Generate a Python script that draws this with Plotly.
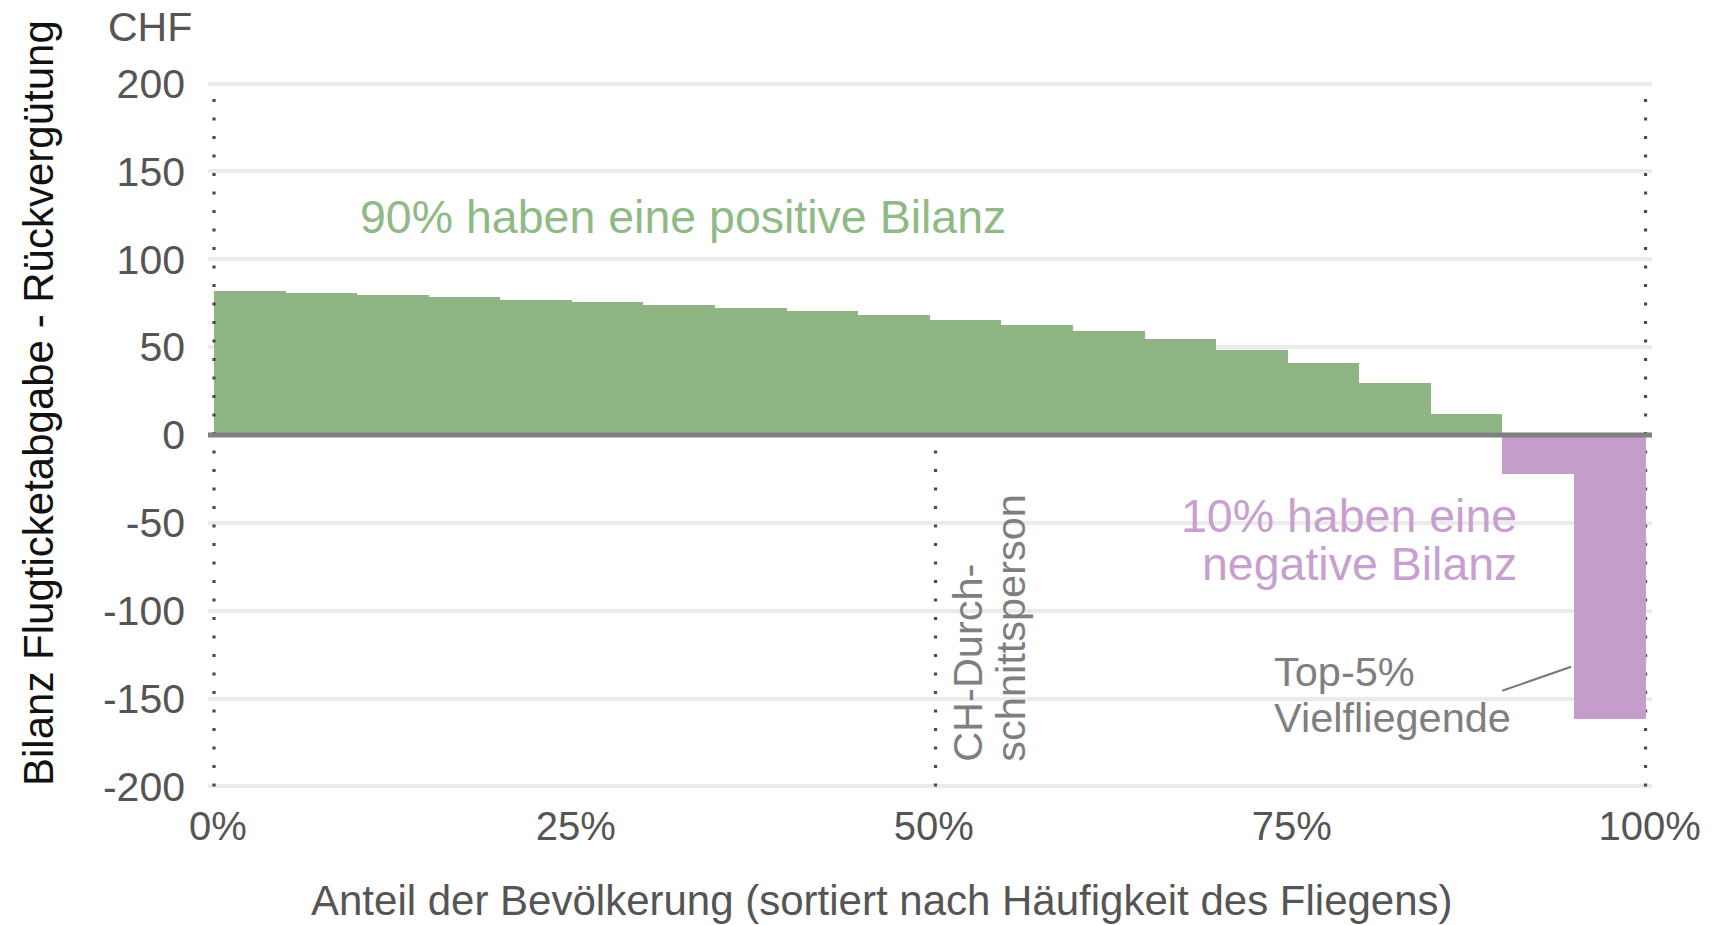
import plotly.graph_objects as go

# ---------------- data ----------------
bin_start = [0, 5, 10, 15, 20, 25, 30, 35, 40, 45, 50, 55, 60, 65, 70, 75, 80, 85, 90, 95]  # % of population
bin_width = 5
bilanz = [82.2, 80.7, 79.5, 78.4, 76.7, 75.6, 73.9, 72.2, 70.5, 68.2,
          65.3, 62.5, 59.1, 54.5, 48.3, 40.9, 29.5, 11.9, -22.3, -161.6]  # CHF
avg_person_share = 50.4
y_tickvals = [-200, -150, -100, -50, 0, 50, 100, 150, 200]
y_ticktext = [str(v) for v in y_tickvals]
x_tickvals = [0, 25, 50, 75, 100]
x_ticktext = ["0%", "25%", "50%", "75%", "100%"]

GREEN = "#8fb584"
PURPLE = "#c49dcb"
GREEN_TXT = "#8fb985"
PURPLE_TXT = "#c7a0d0"
GRAY_TXT = "#7f7f7f"
TICK_C = "#555555"
DOT_C = "#4a4a4a"
FONT = "Liberation Sans, Arial, sans-serif"

XR = [-0.42, 100.45]
YR = [-202, 202]
L, R, T, B = 208, 55, 79.5, 135
W, H = 1713, 925
pw = W - L - R
ph = H - T - B


def dx(px):
    return XR[0] + (px - L) / pw * (XR[1] - XR[0])


def dy(py):
    return YR[1] - (py - T) / ph * (YR[1] - YR[0])


def paper_x(px):
    return (px - L) / pw


def paper_y(py):
    return 1 - (py - T) / ph


colors = [GREEN if v >= 0 else PURPLE for v in bilanz]

fig = go.Figure()
fig.add_trace(go.Bar(
    x=bin_start, y=bilanz, width=[bin_width] * len(bin_start), offset=0,
    marker=dict(color=colors, line=dict(width=0)),
    hoverinfo="skip", showlegend=False,
))

dot_line = dict(color=DOT_C, width=3.2, dash="3px,15.5px")
shapes = [
    # dotted reference lines
    dict(type="line", xref="x", yref="y", x0=0, x1=0, y0=-200, y1=200, line=dot_line, layer="above"),
    dict(type="line", xref="x", yref="y", x0=100, x1=100, y0=-200, y1=200, line=dot_line, layer="between"),
    dict(type="line", xref="x", yref="y", x0=avg_person_share, x1=avg_person_share, y0=-200, y1=-6,
         line=dot_line, layer="above"),
    # zero line
    dict(type="line", xref="paper", yref="y", x0=0, x1=1, y0=0, y1=0,
         line=dict(color="#808080", width=5), layer="above"),
    # connector to top-5%
    dict(type="line", xref="x", yref="y", x0=dx(1507.5), y0=dy(690.7), x1=dx(1576.8), y1=dy(666.7),
         line=dict(color="#777777", width=2), layer="above"),
]

ann = []


def add_text(text, px, py, size, color, xanchor="center", yanchor="middle", angle=0):
    ann.append(dict(text=text, x=paper_x(px), y=paper_y(py), xref="paper", yref="paper",
                    xanchor=xanchor, yanchor=yanchor, textangle=angle,
                    showarrow=False, font=dict(family=FONT, size=size, color=color)))


add_text("CHF", 106, 26.6, 41, TICK_C, xanchor="left")
add_text("90% haben eine positive Bilanz", 684.5, 216.8, 46.5, GREEN_TXT)
add_text("10% haben eine", 1524, 516, 46.5, PURPLE_TXT, xanchor="right")
add_text("negative Bilanz", 1524, 564, 46.5, PURPLE_TXT, xanchor="right")
add_text("Top-5%", 1276, 671.5, 41.5, GRAY_TXT, xanchor="left")
add_text("Vielfliegende", 1276, 717.5, 41.5, GRAY_TXT, xanchor="left")
add_text("CH-Durch-", 970, 764, 41.5, GRAY_TXT, yanchor="bottom", angle=-90)
add_text("schnittsperson", 1013, 764, 41.5, GRAY_TXT, yanchor="bottom", angle=-90)
add_text("Anteil der Bevölkerung (sortiert nach Häufigkeit des Fliegens)", 884.5, 901, 42, TICK_C)
add_text("Bilanz Flugticketabgabe - Rückvergütung", 38, 403, 42, "#111111", angle=-90)

fig.update_layout(
    width=W, height=H,
    margin=dict(l=L, r=R, t=T, b=B, pad=0),
    paper_bgcolor="white", plot_bgcolor="white",
    bargap=0,
    font=dict(family=FONT, color=TICK_C),
    shapes=shapes, annotations=ann,
    xaxis=dict(range=XR, tickvals=x_tickvals, ticktext=x_ticktext, showgrid=False,
               zeroline=False, showline=False, ticks="", ticklabelstandoff=9,
               ticklabelshift=4,
               tickfont=dict(family=FONT, size=40, color=TICK_C), fixedrange=True),
    yaxis=dict(range=YR, tickvals=y_tickvals, ticktext=y_ticktext, showgrid=True,
               gridcolor="#ebebeb", gridwidth=3.5, zeroline=False, showline=False,
               ticks="", ticklabelstandoff=22,
               tickfont=dict(family=FONT, size=41, color=TICK_C), fixedrange=True),
)

fig.write_html("out.html", config={"displayModeBar": False},
               post_script="document.body.style.margin='0';document.body.style.overflow='hidden';")
